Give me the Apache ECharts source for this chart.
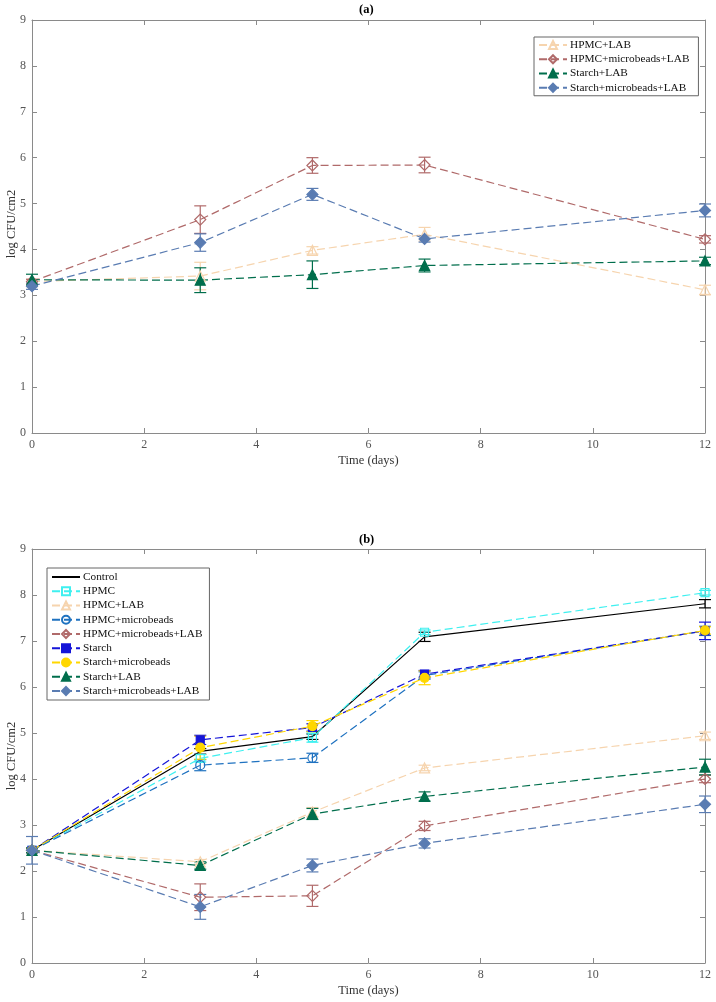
<!DOCTYPE html>
<html>
<head>
<meta charset="utf-8">
<script src="https://cdn.jsdelivr.net/npm/echarts@6/dist/echarts.min.js"></script>
<style>html,body{margin:0;padding:0;background:#fff}#c{width:716px;height:1002px}</style>
</head>
<body>
<div id="c"></div>
<script>
// ---- data ----
const days = [0, 3, 5, 7, 12];

// Panel (a)
const aNames = ['HPMC+LAB', 'HPMC+microbeads+LAB', 'Starch+LAB', 'Starch+microbeads+LAB'];
const aHpmcLab = [3.30, 3.42, 3.98, 4.33, 3.12];
const aHpmcLabErr = [0.05, 0.30, 0.08, 0.15, 0.10];
const aHpmcMbLab = [3.30, 4.65, 5.83, 5.84, 4.22];
const aHpmcMbLabErr = [0.05, 0.30, 0.17, 0.17, 0.08];
const aStarchLab = [3.34, 3.33, 3.45, 3.65, 3.75];
const aStarchLabErr = [0.12, 0.27, 0.30, 0.14, 0.08];
const aStarchMbLab = [3.20, 4.15, 5.20, 4.23, 4.85];
const aStarchMbLabErr = [0.07, 0.19, 0.13, 0.07, 0.14];

// Panel (b)
const bNames = ['Control', 'HPMC', 'HPMC+LAB', 'HPMC+microbeads', 'HPMC+microbeads+LAB',
  'Starch', 'Starch+microbeads', 'Starch+LAB', 'Starch+microbeads+LAB'];
const bControl = [2.45, 4.60, 4.92, 7.09, 7.81];
const bControlErr = [0.05, 0.06, 0.06, 0.10, 0.09];
const bHpmc = [2.45, 4.45, 4.90, 7.19, 8.05];
const bHpmcErr = [0.05, 0.08, 0.10, 0.05, 0.05];
const bHpmcLab = [2.45, 2.20, 3.28, 4.24, 4.94];
const bHpmcLabErr = [0.05, 0.05, 0.10, 0.06, 0.08];
const bHpmcMb = [2.45, 4.30, 4.46, 6.25, 7.22];
const bHpmcMbErr = [0.05, 0.12, 0.10, 0.08, 0.10];
const bHpmcMbLab = [2.45, 1.43, 1.46, 2.98, 4.00];
const bHpmcMbLabErr = [0.05, 0.29, 0.23, 0.10, 0.08];
const bStarch = [2.45, 4.85, 5.12, 6.28, 7.22];
const bStarchErr = [0.05, 0.10, 0.08, 0.08, 0.19];
const bStarchMb = [2.45, 4.68, 5.15, 6.20, 7.23];
const bStarchMbErr = [0.05, 0.25, 0.12, 0.15, 0.08];
const bStarchLab = [2.45, 2.12, 3.24, 3.62, 4.26];
const bStarchLabErr = [0.05, 0.08, 0.12, 0.10, 0.17];
const bStarchMbLab = [2.45, 1.22, 2.12, 2.60, 3.45];
const bStarchMbLabErr = [0.30, 0.27, 0.14, 0.10, 0.18];

const yTitle = 'log CFU/cm2';
const xTitle = 'Time (days)';

// ---- styles ----
const FONT = 'Liberation Serif';
const styles = {
  'Control': {color: '#000000', symbol: 'none', filled: true, dash: 'solid'},
  'HPMC': {color: '#3ff0f0', symbol: 'rect', filled: false, dash: [8, 4]},
  'HPMC+LAB': {color: '#f6d4ae', symbol: 'triangle', filled: false, dash: [8, 4]},
  'HPMC+microbeads': {color: '#1f72c0', symbol: 'circle', filled: false, dash: [8, 4]},
  'HPMC+microbeads+LAB': {color: '#b06a6a', symbol: 'diamond', filled: false, dash: [8, 4]},
  'Starch': {color: '#1515d8', symbol: 'rect', filled: true, dash: [8, 4]},
  'Starch+microbeads': {color: '#ffd700', symbol: 'circle', filled: true, dash: [8, 4]},
  'Starch+LAB': {color: '#006e4c', symbol: 'triangle', filled: true, dash: [8, 4]},
  'Starch+microbeads+LAB': {color: '#5a7cb2', symbol: 'diamond', filled: true, dash: [8, 4]}
};
const symSize = {rect: 8, triangle: 10, circle: 9, diamond: 11, none: 0};

function lineSeries(name, vals, idx) {
  const s = styles[name];
  return {
    type: 'line', name: name, xAxisIndex: idx, yAxisIndex: idx,
    data: days.map((d, i) => [d, vals[i]]),
    symbol: s.symbol, symbolSize: symSize[s.symbol],
    showSymbol: s.symbol !== 'none',
    lineStyle: {color: s.color, width: 1.2, type: s.dash},
    itemStyle: {color: s.filled ? s.color : 'rgba(255,255,255,0)', borderColor: s.color, borderWidth: 1.2},
    emphasis: {disabled: true}, animation: false, z: 3
  };
}
function errSeries(name, vals, errs, idx) {
  const s = styles[name];
  return {
    type: 'custom', name: name + ' err', xAxisIndex: idx, yAxisIndex: idx,
    data: days.map((d, i) => [d, vals[i] - errs[i], vals[i] + errs[i]]),
    encode: {x: 0, y: [1, 2]}, animation: false, z: 2, silent: true,
    renderItem: function (params, api) {
      const x = api.value(0);
      const pTop = api.coord([x, api.value(2)]);
      const pBot = api.coord([x, api.value(1)]);
      const hw = 6;
      const st = {stroke: s.color, lineWidth: 1.2, fill: null};
      return {type: 'group', children: [
        {type: 'line', shape: {x1: pTop[0], y1: pTop[1], x2: pBot[0], y2: pBot[1]}, style: st},
        {type: 'line', shape: {x1: pTop[0] - hw, y1: pTop[1], x2: pTop[0] + hw, y2: pTop[1]}, style: st},
        {type: 'line', shape: {x1: pBot[0] - hw, y1: pBot[1], x2: pBot[0] + hw, y2: pBot[1]}, style: st}
      ]};
    }
  };
}

const axisCol = '#8a8a8a';
const labCol = '#555555';
function xAx(grid, pos) {
  return {
    type: 'value', gridIndex: grid, min: 0, max: 12, interval: 2, position: pos,
    axisLine: {show: true, onZero: false, lineStyle: {color: axisCol, width: 1}},
    axisTick: {show: true, inside: true, length: 5, lineStyle: {color: axisCol}},
    axisLabel: {show: pos === 'bottom', color: labCol, fontFamily: FONT, fontSize: 12, margin: 6},
    splitLine: {show: false},
    name: pos === 'bottom' ? xTitle : '', nameLocation: 'middle', nameGap: 21,
    nameTextStyle: {color: '#333', fontFamily: FONT, fontSize: 12.5}
  };
}
function yAx(grid, pos) {
  return {
    type: 'value', gridIndex: grid, min: 0, max: 9, interval: 1, position: pos,
    axisLine: {show: true, onZero: false, lineStyle: {color: axisCol, width: 1}},
    axisTick: {show: true, inside: true, length: 5, lineStyle: {color: axisCol}},
    axisLabel: {show: pos === 'left', color: labCol, fontFamily: FONT, fontSize: 12, margin: 6},
    splitLine: {show: false}
  };
}

const aVals = [aHpmcLab, aHpmcMbLab, aStarchLab, aStarchMbLab];
const aErrs = [aHpmcLabErr, aHpmcMbLabErr, aStarchLabErr, aStarchMbLabErr];
const bVals = [bControl, bHpmc, bHpmcLab, bHpmcMb, bHpmcMbLab, bStarch, bStarchMb, bStarchLab, bStarchMbLab];
const bErrs = [bControlErr, bHpmcErr, bHpmcLabErr, bHpmcMbErr, bHpmcMbLabErr, bStarchErr, bStarchMbErr, bStarchLabErr, bStarchMbLabErr];

const series = [];
aNames.forEach((n, i) => series.push(errSeries(n, aVals[i], aErrs[i], 0)));
aNames.forEach((n, i) => series.push(lineSeries(n, aVals[i], 0)));
bNames.forEach((n, i) => series.push(errSeries(n, bVals[i], bErrs[i], 1)));
bNames.forEach((n, i) => series.push(lineSeries(n, bVals[i], 1)));

const legendCommon = {
  orient: 'vertical', itemWidth: 28, itemHeight: 10, itemGap: 0.25,
  backgroundColor: '#ffffff', borderColor: '#666666', borderWidth: 1,
  textStyle: {fontFamily: FONT, fontSize: 11.3, color: '#111', lineHeight: 14, padding: [0, 0, 0, -2]},
  selectedMode: false
};
const bLegendData = bNames.map(n => n === 'Control' ? {name: n, itemStyle: {opacity: 0}} : n);

function yTitleText(cy) {
  return {type: 'text', x: 12, y: cy, rotation: Math.PI / 2, silent: true,
    style: {text: yTitle, font: '12.5px "Liberation Serif"', fill: '#333', textAlign: 'center', textVerticalAlign: 'middle'}};
}

const chart = echarts.init(document.getElementById('c'), null, {renderer: 'canvas'});
chart.setOption({
  backgroundColor: '#ffffff',
  animation: false,
  grid: [
    {left: 32, right: 11, top: 20, height: 413, containLabel: false, outerBoundsMode: 'none'},
    {left: 32, right: 11, top: 549, height: 414, containLabel: false, outerBoundsMode: 'none'}
  ],
  xAxis: [xAx(0, 'bottom'), xAx(1, 'bottom'), xAx(0, 'top'), xAx(1, 'top')],
  yAxis: [yAx(0, 'left'), yAx(1, 'left'), yAx(0, 'right'), yAx(1, 'right')],
  legend: [
    Object.assign({}, legendCommon, {data: aNames, left: 534, top: 37, padding: [1, 9, 1, 4]}),
    Object.assign({}, legendCommon, {data: bLegendData, left: 47, top: 568, padding: [2, 7, 2, 4]})
  ],
  graphic: [
    {type: 'text', left: 359, top: 3, style: {text: '(a)', font: 'bold 12.5px "Liberation Serif"', fill: '#000'}},
    {type: 'text', left: 359, top: 533, style: {text: '(b)', font: 'bold 12.5px "Liberation Serif"', fill: '#000'}},
    yTitleText(224),
    yTitleText(756)
  ],
  series: series
});
</script>
</body>
</html>
